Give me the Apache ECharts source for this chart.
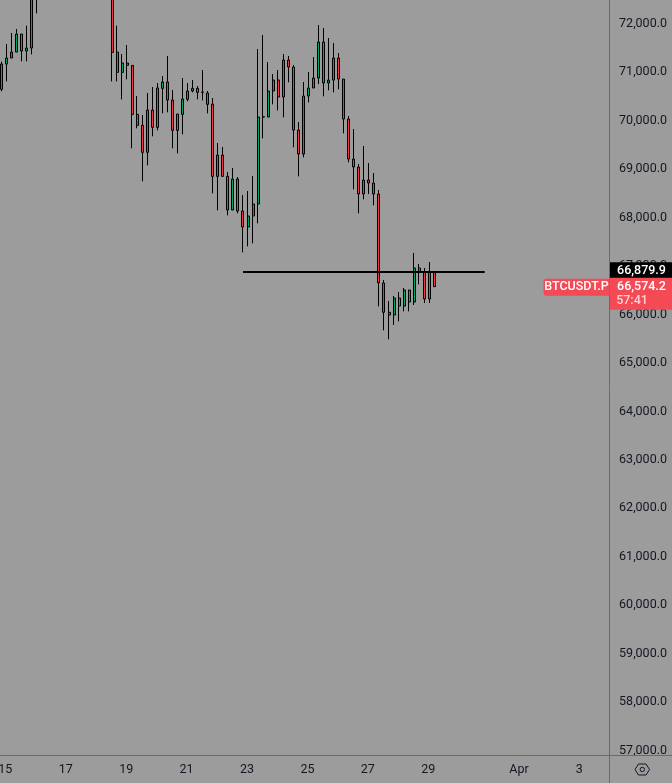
<!DOCTYPE html>
<html>
<head>
<meta charset="utf-8">
<style>html,body{margin:0;padding:0;background:#9c9c9c}#c{width:672px;height:783px}</style>
<script src="https://cdn.jsdelivr.net/npm/echarts@6/dist/echarts.min.js"></script>
</head>
<body>
<div id="c"></div>
<script>
const G14 = new Array(14).fill(null); // candles 8-21 sit entirely above the visible price range
const opens = [70645,71168,71292,71415,71787,71436,71498,73000, ...G14,
  73100,71415,70996,71189,71140,70129,69903,69346,70219,69861,70666,70797,70425,69799,70129,70439,70611,70666,70590,70570,70343,68850,69290,
  68850,68156,68795,68135,67805,68032,68280,70074,70074,70611,70838,70487,71250,71106,69806,69311,70508,70673,70879,71622,70776,70838,71292,70858,70033,69208,69043,68486,68775,68713,
  68486,66650,66045,65990,66340,66175,66505,66258,66959,66877,66320,66877];
const closes = [71168,71292,71415,71787,71436,71498,72900,73300, ...G14,
  71409,70996,71189,71140,70129,69903,69346,70219,69861,70673,70797,70425,69799,70136,70446,70611,70666,70583,70584,70336,68850,69290,68850,
  68156,68795,68135,67805,68032,68280,70074,70080,70611,70838,70487,71250,71106,69806,69311,70508,70673,70879,71622,70776,70838,71292,70858,70033,69208,69043,68486,68775,68713,68486,
  66650,66045,65990,66340,66175,66505,66258,66959,66877,66320,66877,66574.2];
const lows = [70604,70810,71292,71415,71223,71223,71367,72213, ...G14,
  70810,70810,70439,70852,69428,69841,68747,69077,69676,69799,70150,70171,69428,69325,69717,70398,70583,70439,70418,70150,68500,68149,68850,
  68046,68156,68087,67282,67406,67468,67881,69634,70074,70336,70212,70068,70790,69449,68850,69242,70377,70673,70755,70501,70625,70583,70645,69737,69139,68582,68087,68376,68486,68252,
  66168,65673,65488,65783,65859,66065,66065,66196,66622,66237,66237,66574];
const highs = [71216,71580,71807,71890,71787,71959,73100,73400, ...G14,
  73200,71959,71374,71560,71140,70508,70116,70570,70693,70776,70920,71333,70631,70136,70879,70776,70838,70714,71044,70611,70466,69538,69455,
  68940,69022,68836,68465,68548,68857,71477,71766,71209,70962,71044,71374,71333,71147,69971,70797,71003,71312,71972,71911,71704,71601,71395,70858,70095,69827,69105,69476,69125,68919,
  68569,66712,66278,66382,66464,66547,66505,67269,67042,66959,67083,66877];

const priceTicks = [57000,58000,59000,60000,61000,62000,63000,64000,65000,66000,67000,68000,69000,70000,71000,72000];
const tickAt = [1,13,25,37,49,61,73,85,103,115];
const tickLabels = ['15','17','19','21','23','25','27','29','Apr','3'];
const levelPrice = 66879.9;
const lastPrice = 66574.2;
const symbolName = 'BTCUSDT.P';
const countdown = '57:41';
const levelFrom = 48, levelTo = 96;

const BANDS = 122;
const start = Date.UTC(2024,2,14,20);
const categories = Array.from({length:BANDS},(_,i)=>new Date(start+i*4*3600e3).toISOString().slice(0,13));
const candles = opens.map((o,i)=> o==null ? ['-','-','-','-'] : [o,closes[i],lows[i],highs[i]]);

const FONT = 'Roboto, sans-serif';
const TXT = '#131722';
const RED = '#f44a55';
const SEP = '#6a6a6a';

const chart = echarts.init(document.getElementById('c'),null,{renderer:'canvas'});
chart.setOption({
  animation:false,
  backgroundColor:'#9c9c9c',
  grid:{left:-1.22,top:0.7,width:614.3,height:755,containLabel:false,outerBoundsMode:'none'},
  xAxis:{
    type:'category',data:categories,boundaryGap:true,
    axisLine:{show:false},axisTick:{show:false},splitLine:{show:false},
    axisLabel:{
      interval:(i)=>tickAt.includes(i),
      formatter:(v,i)=>{const k=tickAt.indexOf(i);return k<0?'':tickLabels[k];},
      color:TXT,fontFamily:FONT,fontSize:12.5,margin:8,padding:[0,2,0,0],hideOverlap:false
    }
  },
  yAxis:{
    type:'value',position:'right',min:56896.8,max:72474.5,scale:true,
    axisLine:{show:false},axisTick:{show:false},splitLine:{show:false},
    axisLabel:{
      customValues:priceTicks,
      formatter:(v)=>v.toLocaleString('en-US',{minimumFractionDigits:1,maximumFractionDigits:1}),
      color:TXT,fontFamily:FONT,fontSize:12.5,margin:6,padding:[2,0,0,0],showMinLabel:true,showMaxLabel:true
    }
  },
  series:[{
    type:'candlestick',data:candles,barWidth:2.5,clip:true,
    itemStyle:{color:'#00a36a',color0:'#f23645',borderColor:'#000',borderColor0:'#000',borderWidth:1},
    markLine:{
      silent:true,symbol:'none',animation:false,label:{show:false},
      lineStyle:{color:'#000',width:2,type:'solid'},
      data:[[{coord:[categories[levelFrom],levelPrice]},{coord:[categories[levelTo],levelPrice]}]]
    }
  }]
});

const yLevel = chart.convertToPixel({yAxisIndex:0},levelPrice);
const yLast = chart.convertToPixel({yAxisIndex:0},lastPrice);
const tagText = (x,y,text,fill,align)=>({type:'text',z:30,style:{x,y,text,fill,font:'500 12.5px '+FONT,textAlign:align||'center',textVerticalAlign:'middle'}});
chart.setOption({graphic:[
  {type:'line',z:20,shape:{x1:609.5,y1:0,x2:609.5,y2:783},style:{stroke:SEP,lineWidth:1}},
  {type:'line',z:20,shape:{x1:0,y1:755.5,x2:672,y2:755.5},style:{stroke:SEP,lineWidth:1}},
  {type:'rect',z:25,shape:{x:610,y:yLevel-9.5,width:62,height:16.5},style:{fill:'#000'}},
  tagText(641.5,yLevel-1,levelPrice.toLocaleString('en-US',{minimumFractionDigits:1}),'#fff'),
  {type:'rect',z:25,shape:{x:610,y:yLast-9,width:62,height:32},style:{fill:RED}},
  tagText(641.5,yLast,lastPrice.toLocaleString('en-US',{minimumFractionDigits:1}),'#fff'),
  tagText(632,yLast+14,countdown,'#ffd0d4'),
  {type:'rect',z:25,shape:{x:543.5,y:yLast-8,width:66,height:17,r:[3,0,0,3]},style:{fill:RED}},
  tagText(576.5,yLast+0.5,symbolName,'#fff'),
  {type:'polygon',z:30,shape:{points:[[635,769.5],[638.5,764],[646,764],[649.5,769.5],[646,775],[638.5,775]]},style:{fill:'none',stroke:TXT,lineWidth:1}},
  {type:'circle',z:30,shape:{cx:642.3,cy:769.5,r:2.2},style:{fill:'none',stroke:TXT,lineWidth:1}}
]});
</script>
</body>
</html>
